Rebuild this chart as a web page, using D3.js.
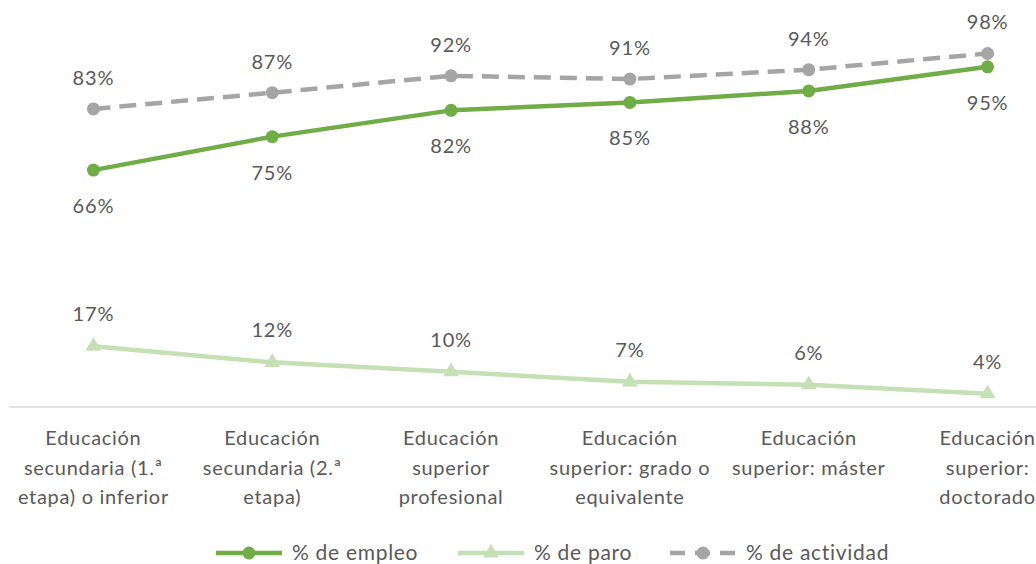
<!DOCTYPE html>
<html><head><meta charset="utf-8">
<script src="https://cdn.jsdelivr.net/npm/d3@7"></script>
<style>body{margin:0;background:#fff}svg{display:block;font-family:Lato,"Noto Sans",sans-serif}</style>
</head><body><svg id="c" width="1036" height="564"></svg>
<script>
const categories = [
  "Educación|secundaria (1.ª|etapa) o inferior",
  "Educación|secundaria (2.ª|etapa)",
  "Educación|superior|profesional",
  "Educación|superior: grado o|equivalente",
  "Educación|superior: máster",
  "Educación|superior:|doctorado"
];
const empleo = [0.658, 0.751, 0.824, 0.846, 0.878, 0.945];
const paro = [0.169, 0.124, 0.098, 0.070, 0.062, 0.037];
const actividad = [0.828, 0.873, 0.920, 0.911, 0.937, 0.982];
const seriesNames = ["% de empleo", "% de paro", "% de actividad"];

const svg = d3.select("#c");
const x = d3.scaleBand().domain(d3.range(categories.length)).range([4, 1077]).padding(0);
const cx = i => x(i) + x.bandwidth() / 2;
const y = d3.scaleLinear().domain([0, 1]).range([407, 47]);
const fmt = d3.format(".0%");
const textColor = "#595959";

// axis line
svg.append("line").attr("x1", 9).attr("x2", 1036).attr("y1", y(0)).attr("y2", y(0))
  .attr("stroke", "#d9d9d9").attr("stroke-width", 1.3);

// category labels
const cat = svg.append("g").attr("font-size", 20).attr("letter-spacing", 0.7).attr("fill", textColor).attr("text-anchor", "middle");
categories.forEach((c, i) => {
  const t = cat.append("text").attr("x", cx(i)).attr("y", 445);
  c.split("|").forEach((ln, j) => t.append("tspan").attr("x", cx(i)).attr("dy", j ? 29.5 : 0).text(ln));
});

const line = d3.line().x((d, i) => cx(i)).y(d => y(d));
const series = [
  {name: seriesNames[0], data: empleo, color: "#70ad47", dash: null, marker: "circle", labelDy: 43},
  {name: seriesNames[1], data: paro, color: "#c5e0b4", dash: null, marker: "triangle", labelDy: -25},
  {name: seriesNames[2], data: actividad, color: "#a5a5a5", dash: "17,9", marker: "circle", labelDy: -24}
];
const tri = d3.symbol().type(d3.symbolTriangle).size(110);

function marker(g, s, px, py) {
  if (s.marker === "circle") g.append("circle").attr("cx", px).attr("cy", py).attr("r", 6.5).attr("fill", s.color);
  else g.append("path").attr("d", tri()).attr("transform", `translate(${px},${py})`).attr("fill", s.color);
}

series.forEach(s => {
  const g = svg.append("g");
  g.append("path").datum(s.data).attr("d", line).attr("fill", "none")
    .attr("stroke", s.color).attr("stroke-width", 4.5).attr("stroke-dasharray", s.dash)
    .attr("stroke-linejoin", "round");
  s.data.forEach((d, i) => marker(g, s, cx(i), y(d)));
  s.data.forEach((d, i) => g.append("text").attr("x", cx(i)).attr("y", y(d) + s.labelDy)
    .attr("text-anchor", "middle").attr("font-size", 20).attr("letter-spacing", 0.8).attr("fill", textColor).text(fmt(d)));
});

// legend
const legendX = [216, 458, 670];
const lg = svg.append("g");
series.forEach((s, i) => {
  const x0 = legendX[i], ly = 553;
  lg.append("line").attr("x1", x0).attr("x2", x0 + 66).attr("y1", ly).attr("y2", ly)
    .attr("stroke", s.color).attr("stroke-width", 4.5).attr("stroke-dasharray", s.dash ? "15,10" : null);
  marker(lg, s, x0 + 33, ly);
  lg.append("text").attr("x", x0 + 76).attr("y", ly + 7).attr("font-size", 21).attr("letter-spacing", 0.7).attr("fill", textColor).text(s.name);
});
</script></body></html>
